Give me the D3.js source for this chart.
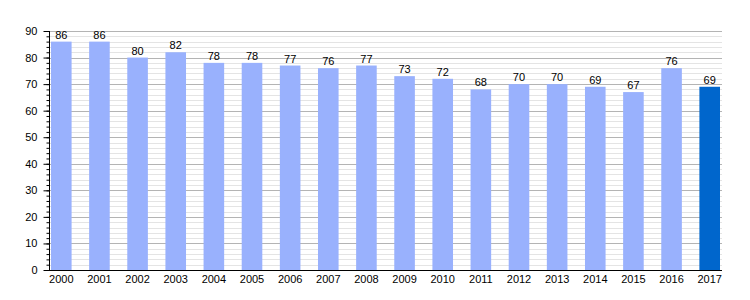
<!DOCTYPE html>
<html>
<head>
<meta charset="utf-8">
<script src="https://cdn.jsdelivr.net/npm/d3@7"></script>
<style>
  body { margin: 0; background: #fff; }
  svg { display: block; font-family: "Liberation Sans", Arial, sans-serif; }
</style>
</head>
<body>
<div id="chart"></div>
<script>
// Chart data
const years = ["2000", "2001", "2002", "2003", "2004", "2005", "2006", "2007", "2008",
               "2009", "2010", "2011", "2012", "2013", "2014", "2015", "2016", "2017"];
const values = [86, 86, 80, 82, 78, 78, 77, 76, 77, 73, 72, 68, 70, 70, 69, 67, 76, 69];
const yTicks = [0, 10, 20, 30, 40, 50, 60, 70, 80, 90];

const data = years.map((year, i) => ({ year, value: values[i] }));

const width = 750;
const height = 300;

const svg = d3.select("#chart")
    .append("svg")
    .attr("width", width)
    .attr("height", height);

// Scales
const x = d3.scaleBand()
    .domain(years)
    .range([51, 720])
    .paddingInner(0.46)
    .paddingOuter(0);

const y = d3.scaleLinear()
    .domain([0, 90])
    .range([270, 31]);

const left = 49, right = 722;

// Minor gridlines (every 2)
svg.append("g")
    .selectAll("line")
    .data(d3.range(2, 90, 2).filter(v => v % 10 !== 0))
    .join("line")
    .attr("x1", left)
    .attr("x2", right)
    .attr("y1", d => Math.round(y(d)) + 0.5)
    .attr("y2", d => Math.round(y(d)) + 0.5)
    .attr("stroke", "#e4e4e4");

// Major gridlines
svg.append("g")
    .selectAll("line")
    .data(yTicks.filter(v => v > 0))
    .join("line")
    .attr("x1", left)
    .attr("x2", right)
    .attr("y1", d => Math.round(y(d)) + 0.5)
    .attr("y2", d => Math.round(y(d)) + 0.5)
    .attr("stroke", "#b4b4b4");

// Bars
svg.append("g")
    .selectAll("rect")
    .data(data)
    .join("rect")
    .attr("x", d => x(d.year))
    .attr("y", d => y(d.value))
    .attr("width", x.bandwidth())
    .attr("height", d => y(0) - y(d.value))
    .attr("fill", (d, i) => i === data.length - 1 ? "#0066cc" : "#99b1fd");

// Value labels
svg.append("g")
    .selectAll("text")
    .data(data)
    .join("text")
    .attr("x", d => x(d.year) + x.bandwidth() / 2)
    .attr("y", d => y(d.value) - 3)
    .attr("text-anchor", "middle")
    .attr("fill", "#000")
    .style("font-size", "11px")
    .text(d => d.value);

// Y axis: minor ticks, then major ticks with labels
const yAxis = svg.append("g")
    .attr("transform", `translate(${left + 0.5},0)`);

yAxis.call(d3.axisLeft(y).tickValues(d3.range(0, 91, 2)).tickSize(3).tickFormat(""));
yAxis.append("g")
    .call(d3.axisLeft(y).tickValues(yTicks).tickSize(6).tickFormat(d3.format("d")))
    .call(g => g.select(".domain").remove())
    .selectAll("text")
    .attr("x", -12)
    .style("font-size", "11px")
    .style("font-family", "Liberation Sans, Arial, sans-serif")
    .attr("fill", "#000");

yAxis.selectAll(".domain").attr("d", `M0,${y(90)}V${y(0)}`);
yAxis.selectAll(".domain, .tick line").attr("stroke", "#000");

// X axis
const xAxis = svg.append("g")
    .attr("transform", `translate(0,${y(0) + 0.5})`)
    .call(d3.axisBottom(x).tickSize(0).tickPadding(5));

xAxis.select(".domain")
    .attr("d", `M${left},0H${right}`)
    .attr("stroke", "#000");

xAxis.selectAll("text")
    .style("font-size", "11px")
    .style("font-family", "Liberation Sans, Arial, sans-serif")
    .attr("fill", "#000");
</script>
</body>
</html>
